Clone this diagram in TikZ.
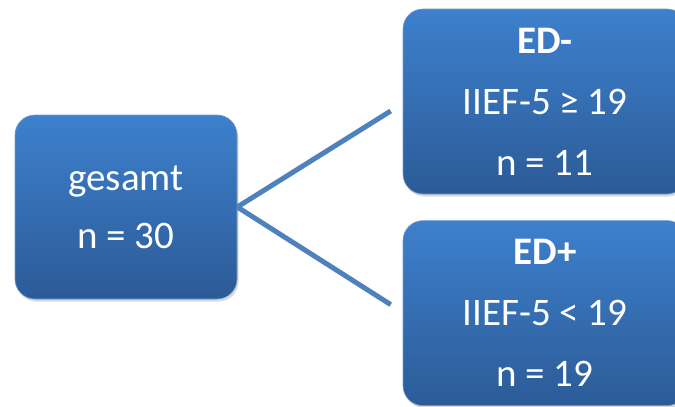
\documentclass[tikz,border=0pt]{standalone}
\usepackage{fontspec}
\setmainfont{Carlito}
\usepackage{tikz}
\usetikzlibrary{positioning,shadows}
\definecolor{boxtop}  {HTML}{3D80CD}
\definecolor{boxbot}  {HTML}{2C5B97}
\definecolor{linkblue}{HTML}{4F81BD}
\newcommand{\boxfont}{\fontsize{39}{61}\selectfont}

\begin{document}
\begin{tikzpicture}[x=1pt, y=-1pt,
    groupbox/.style={rounded corners=20pt, top color=boxtop, bottom color=boxbot,
      draw=linkblue!80!white, line width=0.6pt, text=white, align=center,
      font=\boxfont, inner sep=0pt,
      drop shadow={opacity=0.3, shadow xshift=1.5pt, shadow yshift=-2.5pt}},
    link/.style={draw=linkblue, line width=5pt}]
  \useasboundingbox (0,0) rectangle (675,407);
  \clip (0,0) rectangle (675,407);
  % total group and the two sub-groups
  \node[groupbox, minimum width=222pt, minimum height=184pt]
        (gesamt) at (126,207) {gesamt\\[-3pt]n = 30};
  \node[groupbox, minimum width=284pt, minimum height=185pt]
        (edminus) at (545,101.5) {\textbf{ED-}\\IIEF-5 ≥ 19\\n = 11};
  \node[groupbox, minimum width=284pt, minimum height=185pt, below=26pt of edminus]
        (edplus) {\textbf{ED+}\\IIEF-5 < 19\\n = 19};
  \draw[link] (gesamt.east) -- ([xshift=-12pt, yshift=-9.5pt]edminus.west);
  \draw[link] (gesamt.east) -- ([xshift=-12pt, yshift=8.5pt]edplus.west);
\end{tikzpicture}
\end{document}
